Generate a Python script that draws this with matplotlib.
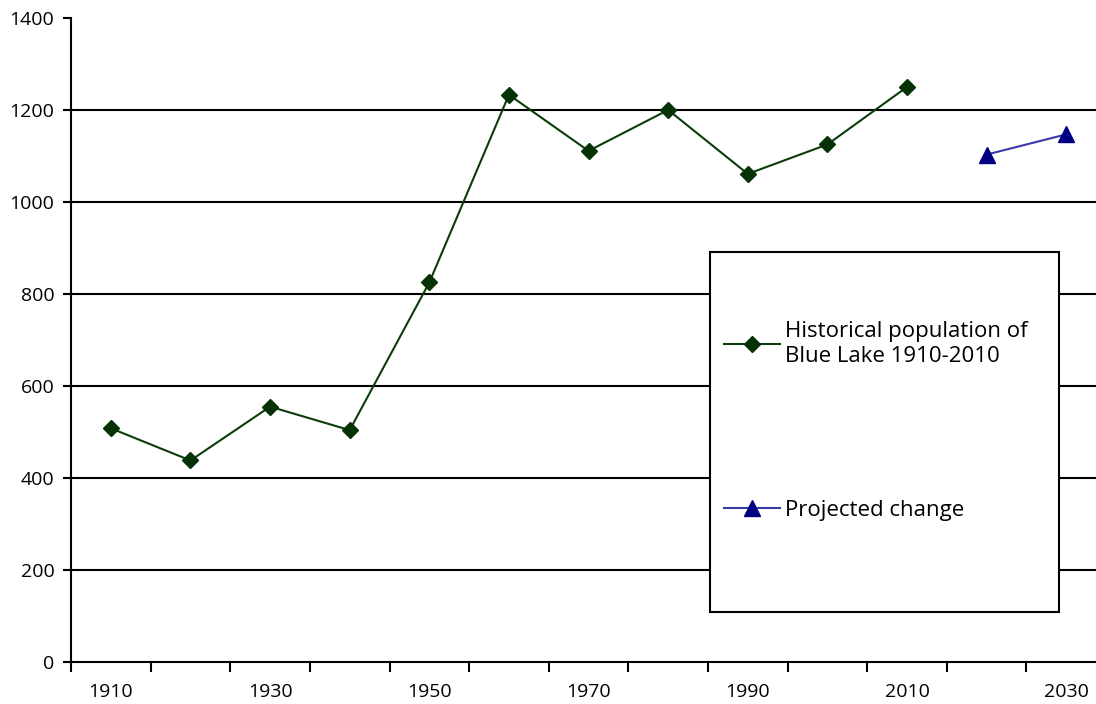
import numpy as np
import matplotlib
matplotlib.use('Agg')
import matplotlib.pyplot as plt
from matplotlib.patches import Rectangle

plt.rcParams['font.family'] = ['Open Sans', 'DejaVu Sans']

# Data
years = ['1910', '1920', '1930', '1940', '1950', '1960', '1970',
         '1980', '1990', '2000', '2010', '2020', '2030']
historical = [508, 438, 555, 504, 825, 1233, 1111, 1200, 1061, 1125, 1250]
projected = [1103, 1147]

hist_label = 'Historical population of\nBlue Lake 1910-2010'
proj_label = 'Projected change'

fig = plt.figure(figsize=(10.96, 7.04), dpi=100)
# the category axis runs a little past the right edge of the picture
ax = fig.add_axes([0.0648, 0.0597, 0.9444, 0.9148])

x = np.arange(len(years))
ax.plot(x[:len(historical)], historical, color='#0a3d0a', lw=1.5,
        marker='D', markersize=8.5, markerfacecolor='#063306',
        markeredgecolor='#063306', label=hist_label, zorder=3)
ax.plot(x[len(historical):], projected, color='#3a3aa8', lw=1.5,
        marker='^', markersize=11, markerfacecolor='#000080',
        markeredgecolor='#000080', label=proj_label, zorder=3)

ax.set_xlim(-0.5, len(years) - 0.5)
ax.set_ylim(0, 1400)

# category ticks between points, labels on every other year
ax.set_xticks(np.arange(-0.5, len(years), 1.0))
ax.set_xticklabels([])
ax.set_xticks(x[::2], minor=True)
ax.set_xticklabels(years[::2], minor=True)
ax.tick_params(axis='x', which='major', direction='out', length=7, width=1.5)
ax.tick_params(axis='x', which='minor', length=0, pad=15, labelsize=14)
ax.set_yticks(np.arange(0, 1401, 200))
ax.tick_params(axis='y', direction='out', length=6, width=1.5, labelsize=14, pad=6)

for yv in range(200, 1400, 200):
    ax.axhline(yv, color='black', lw=1.5, zorder=1)

for s in ['top', 'right']:
    ax.spines[s].set_visible(False)
ax.spines['left'].set_linewidth(1.5)
ax.spines['bottom'].set_linewidth(1.5)

# legend box
box = Rectangle((0.6174, 0.0776), 0.3372, 0.559, transform=ax.transAxes,
                facecolor='white', edgecolor='black', lw=1.5, zorder=4)
ax.add_patch(box)
leg = ax.legend(loc='upper left', bbox_to_anchor=(0.612, 0.560), frameon=False,
                fontsize=16, labelspacing=6.0, handlelength=2.5, handletextpad=0.22)
leg.set_zorder(5)

fig.savefig('out.png', dpi=100)
